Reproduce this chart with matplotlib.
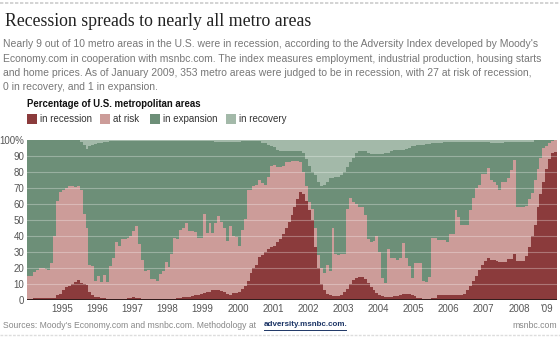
import numpy as np
import matplotlib
matplotlib.use("Agg")
import matplotlib.pyplot as plt
from matplotlib.patches import Rectangle
from matplotlib.lines import Line2D

# monthly shares (%) of U.S. metro areas, Jan 1994 .. Jan 2009
recession = [
    0.5, 0.5, 1.5, 1.5, 1.5, 1.5, 1, 1, 1, 1.5, 3, 3.5,                 # 1994
    6, 8, 9, 10, 11, 12.5, 10.5, 10, 9.5, 5, 3, 2,                      # 1995
    2, 1.5, 1, 0.5, 0.5, 0.5, 0.5, 0.5, 0.5, 0.5, 1, 1.5,               # 1996
    2, 1.5, 1, 0.5, 0.5, 0.5, 0.5, 0.5, 0.5, 0.5, 0.5, 0.5,             # 1997
    0.5, 0.5, 0.5, 1, 1.5, 2, 2, 2, 2.5, 3, 3, 3.5,                     # 1998
    4.5, 5, 5, 6.5, 6, 6, 5.5, 5, 4, 3, 4.5, 4.5,                       # 1999
    5, 7, 9, 12, 17, 20, 22, 27, 28, 30, 32, 33,                        # 2000
    34, 36, 38, 41, 45, 49, 53, 58, 63, 67.5, 66, 62,                   # 2001
    56, 50, 33, 20, 10, 6, 3.5, 3, 2.5, 2.5, 2.5, 3,                    # 2002
    5, 7, 10, 12.5, 14, 14.5, 14.5, 13, 10.5, 8, 6, 4.5,                # 2003
    3, 2.5, 2, 2, 2, 2.5, 2.5, 3, 3.5, 4, 4, 3,                         # 2004
    2.5, 1.5, 1, 0.5, 0.5, 0.5, 1, 1.5, 3, 3, 3, 3,                     # 2005
    3, 3, 3, 3, 3, 4, 6, 9, 12, 15, 19, 22,                             # 2006
    24.5, 26, 25, 25, 24.5, 23.5, 24, 24, 25.5, 25.5, 28.5, 24.5,       # 2007
    24.5, 24.5, 27.5, 33, 40, 47, 58, 66, 74, 82, 88, 92,               # 2008
    92.6,                                                               # 2009
]
at_risk = [
    14.5, 14.5, 16, 17.5, 18.5, 18.5, 18.5, 18, 22, 38.5, 59, 64,
    63, 62, 62, 61, 59.5, 59, 58, 44, 35.5, 17, 18, 10,
    13, 9.5, 14.5, 10.5, 20.5, 25.5, 35.5, 33.5, 37.5, 37.5, 37.5, 38.5,
    41, 44.5, 34, 24.5, 17.5, 18, 12.5, 12.5, 11.5, 15.5, 17.5, 23.5,
    20, 28.5, 38.5, 37, 42.5, 43, 46, 41, 40.5, 39.5, 36, 35.5,
    49, 37, 43, 35.5, 42, 46.5, 43.5, 40, 33, 43, 35.5, 35,
    28.5, 37, 41.5, 57, 52, 51, 50, 48, 45, 42, 45, 51,
    50.5, 47, 45, 43, 41.5, 37.5, 34, 29, 24, 18.5, 14, 9,
    5, 7, 12, 8, 10, 11, 18.5, 15, 42.5, 26.5, 25.5, 26,
    24, 50, 54, 48.5, 46, 43.5, 43.5, 40, 27.5, 28, 31, 35.5,
    27, 11.5, 8.5, 30, 24, 23.5, 22.5, 23, 32, 22, 17, 10.5,
    20.5, 21.5, 22, 11.5, 11, 14, 37.5, 37, 34.5, 34.5, 34.5, 33.5,
    38.5, 38.5, 53, 49, 44, 43, 41, 47, 52, 55, 53, 57,
    54.5, 56.5, 50, 49, 47.5, 45.5, 50, 50, 50.5, 55.5, 59, 33.5,
    33.5, 33.5, 31.5, 30, 27, 28, 24, 23, 21, 14, 10, 7.5,
    7.1,
]
expansion = [
    85, 85, 82.5, 81, 80, 80, 80.5, 81, 77, 60, 38, 32.5,
    31, 30, 29, 29, 29.5, 28.5, 30.5, 43, 49.5, 74, 76, 85.5,
    83, 87, 83, 88, 78.5, 73.5, 63.5, 65.5, 61.5, 61.5, 61, 59.5,
    56.5, 53.5, 64.5, 74.5, 81.5, 81, 86.5, 86.5, 87.5, 83.5, 81.5, 75.5,
    79, 70.5, 60.5, 61.5, 55.5, 54.5, 51.5, 56.5, 56.5, 57, 60.5, 60.5,
    46, 57.5, 51.5, 57.5, 50.5, 46, 49.5, 53.5, 61.5, 52.5, 58.5, 59,
    65, 55.5, 49, 30.5, 30.5, 28.5, 27.5, 24.5, 25, 26, 20, 12,
    11, 11, 10, 9, 6.5, 6.5, 6, 6, 6, 7, 12, 17,
    23, 23, 33, 46, 51, 55, 52, 58, 31, 48, 49, 49,
    51, 26, 22, 28, 32, 35, 35, 40, 54, 55, 54, 51,
    61, 77.5, 81.5, 60, 67, 67.5, 69, 68, 58.5, 68.5, 74, 82.5,
    73.5, 74, 74, 85, 86, 83, 59.5, 59.5, 60.5, 60.5, 61, 62,
    57.5, 57.5, 43, 47, 52, 52, 52, 43, 35, 29, 27, 20,
    20, 16.5, 23, 24, 26, 29, 24, 25, 23, 18, 11.5, 41,
    41, 41, 40, 36, 32, 24.8, 17.8, 10.8, 4.8, 3.8, 1.8, 0.3,
    0.3,
]
recovery = [
    0, 0, 0, 0, 0, 0, 0, 0, 0, 0, 0, 0,
    0, 0, 0, 0, 0, 0, 1, 3, 5.5, 4, 3, 2.5,
    2, 2, 1.5, 1, 0.5, 0.5, 0.5, 0.5, 0.5, 0.5, 0.5, 0.5,
    0.5, 0.5, 0.5, 0.5, 0.5, 0.5, 0.5, 0.5, 0.5, 0.5, 0.5, 0.5,
    0.5, 0.5, 0.5, 0.5, 0.5, 0.5, 0.5, 0.5, 0.5, 0.5, 0.5, 0.5,
    0.5, 0.5, 0.5, 0.5, 1.5, 1.5, 1.5, 1.5, 1.5, 1.5, 1.5, 1.5,
    1.5, 0.5, 0.5, 0.5, 0.5, 0.5, 0.5, 0.5, 2, 2, 3, 4,
    4.5, 6, 7, 7, 7, 7, 7, 7, 7, 7, 8, 12,
    16, 20, 22, 26, 29, 28, 26, 24, 24, 23, 23, 22,
    20, 17, 14, 11, 8, 7, 7, 7, 8, 9, 9, 9,
    9, 8.5, 8, 8, 7, 6.5, 6, 6, 6, 5.5, 5, 4,
    3.5, 3, 3, 3, 2.5, 2.5, 2, 2, 2, 2, 1.5, 1.5,
    1, 1, 1, 1, 1, 1, 1, 1, 1, 1, 1, 1,
    1, 1, 2, 2, 2, 2, 2, 1, 1, 1, 1, 1,
    1, 1, 1, 1, 1, 0.2, 0.2, 0.2, 0.2, 0.2, 0.2, 0.2,
    0,
]
series_names = ["in recession", "at risk", "in expansion", "in recovery"]
series_colors = ["#8b3b3c", "#cc9c99", "#6d8f78", "#a3b9a9"]
year_labels = ["1995", "1996", "1997", "1998", "1999", "2000", "2001",
               "2002", "2003", "2004", "2005", "2006", "2007", "2008", "'09"]

W, H = 560, 337


def fx(px):
    return px / W


def fy(py):
    return 1 - py / H


fig = plt.figure(figsize=(5.6, 3.37), dpi=100)
fig.patch.set_facecolor("white")

sans = ["Liberation Sans", "DejaVu Sans"]

# header
fig.add_artist(Line2D([0, 1], [fy(3), fy(3)], color="#cccccc", lw=1.2, linestyle=(0, (2, 1))))
fig.text(fx(5), fy(22), "Recession spreads to nearly all metro areas",
         family="Liberation Serif", fontsize=12.8, color="#222222", va="center", ha="left")
subtitle = ["Nearly 9 out of 10 metro areas in the U.S. were in recession, according to the Adversity Index developed by Moody's",
            "Economy.com in cooperation with msnbc.com. The index measures employment, industrial production, housing starts",
            "and home prices. As of January 2009, 353 metro areas were judged to be in recession, with 27 at risk of recession,",
            "0 in recovery, and 1 in expansion."]
for i, line in enumerate(subtitle):
    fig.text(fx(3), fy(44 + i * 14.5), line, family=sans, fontsize=7.5,
             color="#777777", va="center", ha="left")

# legend
fig.text(fx(27), fy(104), "Percentage of U.S. metropolitan areas", family=sans,
         fontsize=6.9, fontweight="bold", color="#111111", va="center", ha="left")
legend_x = [27, 100, 150, 226]
for name, col, lx in zip(series_names, series_colors, legend_x):
    fig.add_artist(Rectangle((fx(lx), fy(124)), fx(10), 10 / H, facecolor=col,
                             edgecolor="none", transform=fig.transFigure))
    fig.text(fx(lx + 13), fy(119), name, family=sans, fontsize=7,
             color="#333333", va="center", ha="left")

# chart
ax = fig.add_axes([fx(27), fy(300), fx(557) - fx(27), (300 - 140) / H])
months = np.arange(len(recession))
bottom = np.zeros(len(months))
for vals, col in zip([recession, at_risk, expansion, recovery], series_colors):
    vals = np.array(vals, dtype=float)
    ax.bar(months, vals, width=1.0, bottom=bottom, align="edge", color=col,
           edgecolor="none", linewidth=0)
    bottom += vals

for g in range(10, 100, 10):
    ax.axhline(g, color="white", alpha=0.3, lw=0.8)
ax.axhline(0, color="#2a1a1a", lw=2)

ax.set_xlim(0, len(months))
ax.set_ylim(0, 100)
ax.set_yticks(range(0, 101, 10))
ax.set_yticklabels([str(v) if v < 100 else "100%" for v in range(0, 101, 10)])
tick_pos = [12 * (i + 1) for i in range(14)] + [177.5]
ax.set_xticks(tick_pos)
ax.set_xticklabels(year_labels)
ax.tick_params(length=0, labelsize=7, labelcolor="#555555", pad=3)
ax.tick_params(axis="y", pad=2)
for lab in ax.get_xticklabels() + ax.get_yticklabels():
    lab.set_family(sans)
for s in ax.spines.values():
    s.set_visible(False)

# footer
fig.text(fx(3), fy(325), "Sources: Moody's Economy.com and msnbc.com. Methodology at",
         family=sans, fontsize=6.2, color="#888888", va="center", ha="left")
fig.text(fx(264), fy(325), "adversity.msnbc.com.", family=sans, fontsize=5.8,
         fontweight="bold", color="#1c3566", va="center", ha="left")
fig.add_artist(Line2D([fx(264), fx(346)], [fy(329.5), fy(329.5)], color="#1c3566", lw=0.7))
fig.text(fx(557), fy(325), "msnbc.com", family=sans, fontsize=6.3,
         color="#888888", va="center", ha="right")
fig.add_artist(Line2D([0, 1], [fy(335), fy(335)], color="#dddddd", lw=1, linestyle=(0, (2, 1))))

fig.savefig("out.png", dpi=100, facecolor="white")
